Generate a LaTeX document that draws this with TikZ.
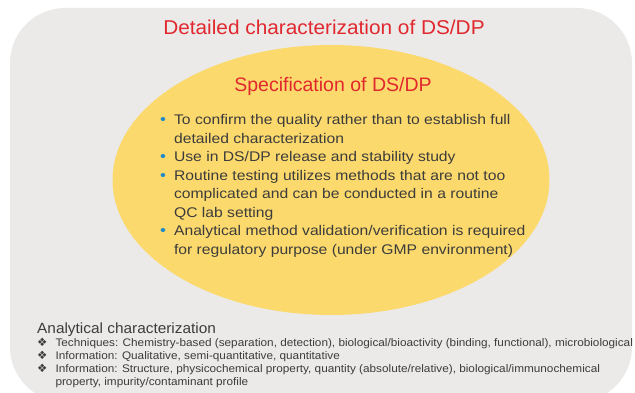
\documentclass[tikz,border=0pt]{standalone}
\usepackage{fontspec}
\usetikzlibrary{shapes.geometric}
\setmainfont{Liberation Sans}
\newfontfamily\symfont{DejaVu Sans}
\definecolor{bggray}{HTML}{EBEAE9}
\definecolor{ellyellow}{HTML}{FCD96C}
\definecolor{titlered}{HTML}{E0282E}
\definecolor{bulletblue}{HTML}{1E8AC8}
\definecolor{txtgray}{HTML}{3C3C3C}
\newcommand{\bluedot}{\textcolor{bulletblue}{\fontsize{15}{15}\selectfont •}}
\newcommand{\diasym}{{\symfont\fontsize{11.5}{11}\selectfont ❖}}
\begin{document}
\begin{tikzpicture}[x=1pt,y=-1pt,
  title/.style={text=titlered,inner sep=0pt,anchor=base},
  bodytext/.style={text=txtgray,font=\addfontfeature{FakeStretch=1.12}\fontsize{14}{18.5}\selectfont,inner sep=0pt,align=left},
  smalltext/.style={text=txtgray,font=\addfontfeature{FakeStretch=1.07}\fontsize{11}{12.8}\selectfont,inner sep=0pt,align=left}]
\useasboundingbox (0,0) rectangle (635,393);
\begin{scope}
\clip (0,0) rectangle (635,393);
\fill[bggray,rounded corners=55pt] (10,8) rectangle (632,402);
\end{scope}
\node[ellipse,fill=ellyellow,minimum width=437pt,minimum height=270pt,inner sep=0pt] (ell) at (331,180) {};
\node[title,font=\addfontfeature{FakeStretch=1.04}\fontsize{20}{24}\selectfont] (t1) at (324,35) {Detailed characterization of DS/DP};
\node[title,font=\fontsize{19.5}{24}\selectfont] (t2) at (333,91.7) {Specification of DS/DP};
\node[bodytext,anchor=base west] (b) at (160,125) {%
\begin{tabular}[t]{@{}l@{\hspace{8pt}}l@{}}
\bluedot & To confirm the quality rather than to establish full\\
 & detailed characterization\\
\bluedot & Use in DS/DP release and stability study\\
\bluedot & Routine testing utilizes methods that are not too\\
 & complicated and can be conducted in a routine\\
 & QC lab setting\\
\bluedot & Analytical method validation/verification is required\\
 & for regulatory purpose (under GMP environment)
\end{tabular}};
\node[text=txtgray,font=\addfontfeature{FakeStretch=1.04}\fontsize{14.8}{16}\selectfont,inner sep=0pt,anchor=base west] (ac) at (37,333.3) {Analytical characterization};
\node[smalltext,anchor=base west] (l) at (37,346.7) {%
\begin{tabular}[t]{@{}l@{\hspace{8pt}}l@{}}
\diasym & Techniques: Chemistry-based (separation, detection), biological/bioactivity (binding, functional), microbiological\\
\diasym & Information: Qualitative, semi-quantitative, quantitative\\
\diasym & Information: Structure, physicochemical property, quantity (absolute/relative), biological/immunochemical\\
 & property, impurity/contaminant profile
\end{tabular}};
\end{tikzpicture}
\end{document}
